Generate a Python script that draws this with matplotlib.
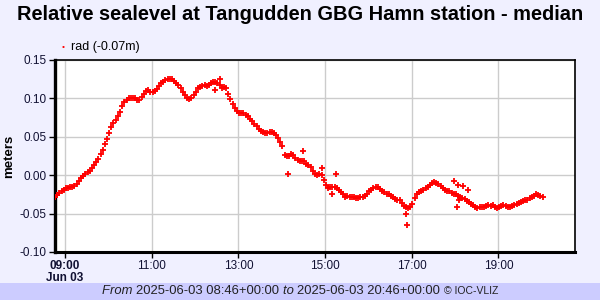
import matplotlib
matplotlib.use("Agg")
import matplotlib.pyplot as plt
import numpy as np

# ---- data (minutes after 2025-06-03 08:46 UTC, metres) ----
start_hour = 8 + 46 / 60
step_min = 3
sea_level = [
    -0.028, -0.026, -0.023, -0.021, -0.019, -0.017, -0.017, -0.016, -0.015, -0.014,
    -0.011, -0.008, -0.004, -0.001, 0.002, 0.004, 0.006, 0.009, 0.013, 0.017,
    0.021, 0.027, 0.033, 0.040, 0.047, 0.055, 0.063, 0.068, 0.072, 0.077,
    0.082, 0.090, 0.095, 0.098, 0.100, 0.101, 0.100, 0.100, 0.098, 0.098,
    0.102, 0.106, 0.110, 0.111, 0.108, 0.108, 0.110, 0.112, 0.116, 0.120,
    0.122, 0.124, 0.125, 0.125, 0.125, 0.123, 0.120, 0.117, 0.113, 0.108,
    0.104, 0.100, 0.099, 0.101, 0.104, 0.108, 0.113, 0.115, 0.116, 0.117,
    0.116, 0.117, 0.120, 0.122, 0.121, 0.120, 0.118, 0.113, 0.115, 0.113,
    0.106, 0.099, 0.093, 0.088, 0.084, 0.081, 0.081, 0.081, 0.079, 0.077,
    0.073, 0.070, 0.067, 0.064, 0.060, 0.057, 0.056, 0.055, 0.055, 0.056,
    0.056, 0.055, 0.052, 0.048, 0.043, 0.038, 0.026, 0.025, 0.025, 0.027,
    0.026, 0.023, 0.020, 0.018, 0.018, 0.018, 0.015, 0.013, 0.011, 0.006,
    0.002, 0.000, 0.001, 0.000, -0.006, -0.013, -0.017, -0.016, -0.015, -0.015,
    -0.017, -0.019, -0.022, -0.025, -0.028, -0.027, -0.029, -0.028, -0.029, -0.030,
    -0.030, -0.029, -0.028, -0.027, -0.024, -0.021, -0.019, -0.017, -0.015, -0.015,
    -0.018, -0.021, -0.022, -0.024, -0.025, -0.027, -0.029, -0.031, -0.032, -0.032,
    -0.036, -0.040, -0.042, -0.043, -0.042, -0.037, -0.030, -0.024, -0.022, -0.020,
    -0.019, -0.017, -0.015, -0.013, -0.010, -0.009, -0.010, -0.012, -0.014, -0.017,
    -0.019, -0.020, -0.021, -0.023, -0.024, -0.025, -0.027, -0.028, -0.030, -0.031,
    -0.033, -0.035, -0.037, -0.039, -0.041, -0.043, -0.042, -0.042, -0.041, -0.040,
    -0.039, -0.040, -0.039, -0.041, -0.043, -0.041, -0.040, -0.039, -0.040, -0.041,
    -0.041, -0.040, -0.039, -0.037, -0.036, -0.035, -0.034, -0.032, -0.032, -0.030,
    -0.028, -0.027, -0.025, -0.026, -0.027, -0.028,
]
# scattered individual readings (minutes after 08:46, metres)
outlier_min = [222, 229, 322, 344, 370, 384, 389, 486, 488, 553, 556, 558, 560, 565, 572]
outlier_val = [0.111, 0.125, 0.001, 0.0315, 0.010, -0.024, 0.001, -0.050, -0.065,
               -0.007, -0.041, -0.013, -0.032, -0.014, -0.019]

y_ticks = [-0.10, -0.05, 0.00, 0.05, 0.10, 0.15]
x_tick_hours = [9, 11, 13, 15, 17, 19]
x_tick_labels = ["09:00\nJun 03", "11:00", "13:00", "15:00", "17:00", "19:00"]

title = "Relative sealevel at Tangudden GBG Hamn station - median"
legend_label = "rad (-0.07m)"

# ---- figure ----
plt.rcParams["font.family"] = ["Liberation Sans", "DejaVu Sans"]
BG = "#F0F0FF"
fig = plt.figure(figsize=(6, 3), dpi=100, facecolor=BG)
ax = fig.add_axes([55 / 600, 1 - 252 / 300, 520 / 600, 192 / 300])
ax.set_facecolor("white")

t_hours = start_hour + np.arange(len(sea_level)) * step_min / 60
mk = dict(linestyle="none", marker="+", color="red", markersize=4,
          markeredgewidth=1.3, zorder=3)
ax.plot(t_hours, sea_level, **mk)
ax.plot(start_hour + np.array(outlier_min) / 60, outlier_val, **mk)

ax.set_xlim(start_hour, start_hour + 12)
ax.set_ylim(-0.10, 0.15)
ax.set_yticks(y_ticks)
ax.set_yticklabels([f"{v:.2f}" for v in y_ticks])
ax.set_xticks(x_tick_hours)
ax.set_xticklabels(x_tick_labels, linespacing=0.95)
ax.get_xticklabels()[0].set_fontweight("bold")
ax.grid(True, color="#CCCCCC", linewidth=1)
ax.set_axisbelow(True)
ax.tick_params(axis="both", labelsize=8.5, length=4, width=1, colors="black",
               pad=2)
for lab in ax.get_yticklabels() + ax.get_xticklabels():
    lab.set_color("#111133")

ax.spines["left"].set_linewidth(2.4)
ax.spines["bottom"].set_linewidth(2.2)
ax.spines["top"].set_linewidth(1.2)
ax.spines["right"].set_linewidth(1.2)

ax.set_ylabel("meters", fontsize=9.5, fontweight="bold")
ax.yaxis.set_label_coords((15 - 55) / 520, 0.5)

fig.text(0.5, 1 - 15 / 300, title, ha="center", va="center",
         fontsize=14.4, fontweight="bold")

# legend
fig.text(63 / 600, 1 - 48 / 300, "•", color="red", ha="center", va="center",
         fontsize=6)
fig.text(71 / 600, 1 - 47 / 300, legend_label, ha="left", va="center", fontsize=9)

# footer band
fig.patches.append(plt.Rectangle((0, 0), 1, 17 / 300, transform=fig.transFigure,
                                 facecolor="#CCCCFF", edgecolor="none", zorder=0))
parts = [("From ", "italic", 9.4), ("2025-06-03 08:46+00:00 ", "normal", 9.4),
         ("to ", "italic", 9.4), ("2025-06-03 20:46+00:00 ", "normal", 9.4),
         ("© IOC-VLIZ", "normal", 7.5)]
fig.canvas.draw()
renderer = fig.canvas.get_renderer()
texts = []
widths = []
for s, style, size in parts:
    t = fig.text(0, 8.5 / 300, s, fontstyle=style, fontsize=size, ha="left",
                 va="center", color="#222222")
    bb = t.get_window_extent(renderer)
    texts.append(t)
    widths.append(bb.width)
total = sum(widths)
x0 = (600 - total) / 2
for t, w in zip(texts, widths):
    t.set_x(x0 / 600)
    x0 += w

fig.savefig("out.png", dpi=100, facecolor=BG)
